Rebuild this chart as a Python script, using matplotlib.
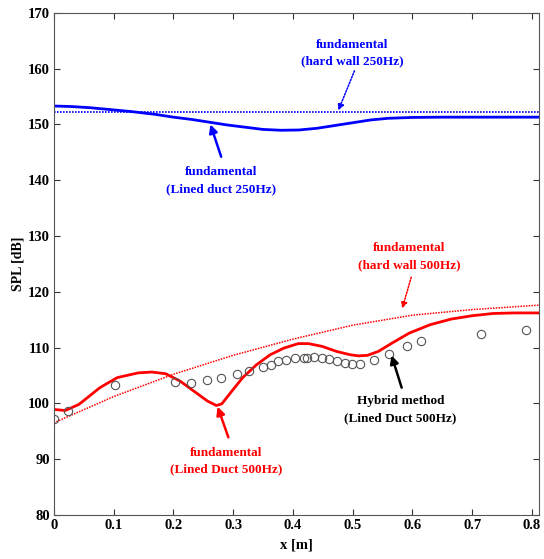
import numpy as np
import matplotlib
matplotlib.use("Agg")
import matplotlib.pyplot as plt

# lined duct 250Hz (solid blue)
x_lined250 = [0.0, 0.03, 0.06, 0.1, 0.13, 0.17, 0.2, 0.23, 0.26, 0.29, 0.32, 0.35, 0.38,
              0.41, 0.44, 0.47, 0.5, 0.53, 0.56, 0.6, 0.65, 0.7, 0.75, 0.812]
spl_lined250 = [153.3, 153.2, 153.0, 152.6, 152.3, 151.8, 151.3, 150.9, 150.4, 149.9, 149.5, 149.1, 148.95,
                149.0, 149.3, 149.8, 150.3, 150.8, 151.1, 151.25, 151.3, 151.3, 151.3, 151.3]

# hard wall 250Hz (dotted blue)
x_hard250 = [0.0, 0.812]
spl_hard250 = [152.2, 152.2]

# lined duct 500Hz (solid red)
x_lined500 = [0.0, 0.019, 0.042, 0.077, 0.106, 0.141, 0.164, 0.187, 0.211, 0.234, 0.257, 0.272,
              0.281, 0.298, 0.316, 0.339, 0.362, 0.385, 0.409, 0.426, 0.449, 0.473, 0.496, 0.510,
              0.525, 0.543, 0.566, 0.595, 0.630, 0.665, 0.700, 0.735, 0.770, 0.812]
spl_lined500 = [98.9, 98.7, 99.8, 102.8, 104.6, 105.45, 105.6, 105.3, 104.0, 102.2, 100.4, 99.6,
                99.9, 102.2, 104.6, 106.9, 108.7, 109.9, 110.7, 110.7, 110.2, 109.3, 108.7, 108.5,
                108.6, 109.3, 110.8, 112.6, 114.1, 115.1, 115.7, 116.1, 116.2, 116.2]

# hard wall 500Hz (dotted red)
x_hard500 = [0.0, 0.1, 0.2, 0.3, 0.4, 0.5, 0.6, 0.7, 0.812]
spl_hard500 = [96.5, 101.2, 105.2, 108.6, 111.5, 114.0, 115.8, 116.8, 117.6]

# hybrid method (open circles)
x_hybrid = [0.0, 0.024, 0.103, 0.203, 0.230, 0.257, 0.279, 0.307, 0.327, 0.350, 0.363, 0.375,
            0.388, 0.404, 0.418, 0.424, 0.435, 0.449, 0.460, 0.473, 0.487, 0.499, 0.512, 0.535,
            0.561, 0.591, 0.614, 0.714, 0.790]
spl_hybrid = [97.2, 98.7, 103.2, 103.8, 103.6, 104.2, 104.6, 105.3, 105.75, 106.5, 106.95, 107.5,
              107.8, 108.1, 108.15, 108.15, 108.3, 108.2, 108.0, 107.5, 107.3, 107.1, 107.0, 107.7,
              108.9, 110.2, 111.1, 112.5, 113.1]

plt.rcParams['font.family'] = ['Liberation Serif', 'DejaVu Serif']
plt.rcParams['font.weight'] = 'bold'

fig = plt.figure(figsize=(5.44, 5.59), dpi=100)
ax = fig.add_axes([0.099, 0.079, 0.892, 0.898])

dots = (0, (1, 0.8))
ax.plot(x_hard250, spl_hard250, color='blue', linestyle=dots, linewidth=1.2)
ax.plot(x_lined250, spl_lined250, color='blue', linewidth=2.0)
ax.plot(x_hard500, spl_hard500, color='red', linestyle=dots, linewidth=1.1)
ax.plot(x_lined500, spl_lined500, color='red', linewidth=2.0)
ax.plot(x_hybrid, spl_hybrid, linestyle='none', marker='o', markersize=6,
        markerfacecolor='none', markeredgecolor='#555555', markeredgewidth=0.8)

# (text, text centre, arrow tail, arrow head, colour, dotted arrow)
notes = [
    ('fundamental\n(hard wall 250Hz)', (0.499, 162.8), (0.503, 159.6), (0.476, 152.5), 'blue', True),
    ('fundamental\n(Lined duct 250Hz)', (0.28, 139.9), (0.28, 144.2), (0.262, 150.0), 'blue', False),
    ('fundamental\n(hard wall 500Hz)', (0.595, 126.3), (0.598, 122.6), (0.583, 117.0), 'red', True),
    ('fundamental\n(Lined Duct 500Hz)', (0.289, 89.6), (0.292, 93.9), (0.274, 99.4), 'red', False),
    ('Hybrid method\n(Lined Duct 500Hz)', (0.580, 98.9), (0.582, 102.8), (0.565, 108.6), 'black', False),
]
for txt, pos, tail, head, c, dotted in notes:
    ax.text(pos[0], pos[1], txt, color=c, fontsize=9.5, fontweight='bold',
            ha='center', va='center', linespacing=1.55)
    if dotted:
        props = dict(arrowstyle='-|>', color=c, linestyle=(0, (1, 1)), lw=1.1,
                     shrinkA=0, shrinkB=0, mutation_scale=9)
    else:
        props = dict(arrowstyle='-|>', color=c, lw=1.8,
                     shrinkA=0, shrinkB=0, mutation_scale=12)
    ax.annotate('', xy=head, xytext=tail, arrowprops=props)

ax.set_xlim(0, 0.812)
ax.set_ylim(80, 170)
ax.set_xticks(np.arange(0, 0.81, 0.1))
ax.set_xticklabels(['0', '0.1', '0.2', '0.3', '0.4', '0.5', '0.6', '0.7', '0.8'])
ax.set_yticks(np.arange(80, 171, 10))
ax.tick_params(direction='in', top=True, right=True, length=4, width=0.8,
               labelsize=10.5, colors='#333333', labelcolor='black', pad=3)
for s in ax.spines.values():
    s.set_color('#555555')
    s.set_linewidth(0.8)

ax.set_xlabel('x [m]', fontsize=10.5, fontweight='bold', labelpad=5)
ax.set_ylabel('SPL [dB]', fontsize=10, fontweight='bold', labelpad=2)

fig.savefig('out.png', dpi=100)
